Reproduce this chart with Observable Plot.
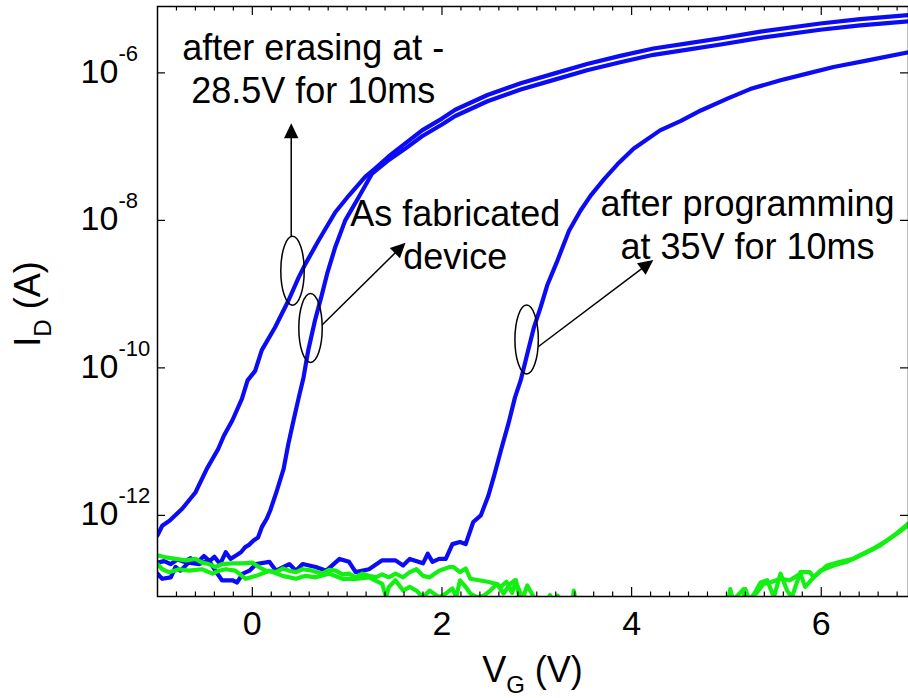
<!DOCTYPE html>
<html>
<head>
<meta charset="utf-8">
<script src="https://cdn.jsdelivr.net/npm/d3@7"></script>
<script src="https://cdn.jsdelivr.net/npm/@observablehq/plot@0.6"></script>
<style>
  html, body { margin: 0; padding: 0; background: #ffffff; }
  #chart { width: 908px; height: 698px; overflow: hidden; }
</style>
</head>
<body>
<div id="chart"></div>
<script>
// ---------- DATA: [V_G (V), log10(I_D / A)] ----------
const erased = [
  [-1.0,-12.27],[-0.95,-12.14],[-0.87,-12.07],[-0.74,-11.91],[-0.60,-11.69],[-0.48,-11.37],
  [-0.36,-11.10],[-0.30,-10.92],[-0.21,-10.71],[-0.11,-10.42],[-0.05,-10.17],[0.03,-10.04],
  [0.10,-9.76],[0.24,-9.45],[0.38,-9.09],[0.49,-8.77],[0.56,-8.59],[0.70,-8.27],[0.875,-7.89],
  [1.02,-7.66],[1.19,-7.41],[1.30,-7.29],[1.44,-7.13],[1.61,-6.96],[1.79,-6.78],[2.0,-6.62],
  [2.14,-6.50],[2.48,-6.30],[2.83,-6.14],[3.18,-6.01],[3.53,-5.88],[3.88,-5.77],[4.23,-5.67],
  [4.59,-5.60],[4.94,-5.53],[5.36,-5.44],[5.99,-5.33],[6.41,-5.27],[6.92,-5.215]
];
const asFabricated = [
  [-1.0,-12.64],[-0.93,-12.62],[-0.86,-12.66],[-0.79,-12.60],[-0.72,-12.63],[-0.65,-12.58],
  [-0.58,-12.64],[-0.51,-12.55],[-0.45,-12.62],[-0.40,-12.56],[-0.34,-12.66],[-0.28,-12.50],
  [-0.23,-12.59],[-0.18,-12.55],[-0.12,-12.50],[-0.075,-12.43],[-0.035,-12.40],[0.013,-12.34],
  [0.06,-12.30],[0.10,-12.16],[0.15,-12.05],[0.19,-11.93],[0.26,-11.66],[0.33,-11.37],
  [0.38,-11.03],[0.435,-10.71],[0.49,-10.40],[0.54,-10.13],[0.59,-9.76],[0.66,-9.36],
  [0.735,-9.0],[0.79,-8.72],[0.875,-8.36],[0.98,-8.0],[1.12,-7.69],[1.26,-7.37],[1.44,-7.18],
  [1.61,-7.03],[1.79,-6.86],[2.0,-6.70],[2.14,-6.585],[2.48,-6.385],[2.83,-6.225],[3.18,-6.095],
  [3.53,-5.965],[3.88,-5.855],[4.23,-5.755],[4.59,-5.685],[4.94,-5.615],[5.36,-5.525],[5.99,-5.415],
  [6.41,-5.355],[6.92,-5.30]
];
const programmed = [
  [-1.0,-12.79],[-0.95,-12.86],[-0.86,-12.84],[-0.81,-12.70],[-0.76,-12.75],[-0.67,-12.64],
  [-0.56,-12.66],[-0.46,-12.61],[-0.39,-12.75],[-0.32,-12.88],[-0.21,-12.88],[-0.16,-12.91],
  [-0.10,-12.79],[-0.03,-12.75],[0.04,-12.66],[0.18,-12.63],[0.25,-12.75],[0.39,-12.66],
  [0.46,-12.75],[0.53,-12.66],[0.67,-12.70],[0.78,-12.75],[0.92,-12.59],[1.02,-12.63],
  [1.09,-12.77],[1.23,-12.73],[1.37,-12.61],[1.51,-12.61],[1.59,-12.68],[1.66,-12.59],
  [1.80,-12.65],[1.85,-12.52],[1.90,-12.63],[1.97,-12.59],[2.04,-12.59],[2.11,-12.39],
  [2.19,-12.36],[2.25,-12.39],[2.33,-12.09],[2.41,-12.00],[2.49,-11.73],[2.55,-11.46],
  [2.63,-11.08],[2.70,-10.76],[2.77,-10.40],[2.83,-10.17],[2.90,-9.81],[2.97,-9.45],
  [3.04,-9.18],[3.11,-8.88],[3.21,-8.57],[3.34,-8.14],[3.46,-7.87],[3.57,-7.66],[3.71,-7.44],
  [3.85,-7.24],[4.02,-7.03],[4.30,-6.78],[4.52,-6.65],[4.73,-6.51],[5.01,-6.35],[5.25,-6.22],
  [5.57,-6.10],[5.85,-6.01],[6.13,-5.92],[6.49,-5.83],[6.92,-5.72]
];
const green1 = [
  [-1.0,-12.54],[-0.91,-12.57],[-0.81,-12.59],[-0.70,-12.61],[-0.60,-12.59],[-0.53,-12.64],
  [-0.46,-12.66],[-0.39,-12.70],[-0.32,-12.66],[-0.21,-12.65],[-0.11,-12.65],[0.0,-12.64],
  [0.07,-12.70],[0.14,-12.75],[0.25,-12.77],[0.32,-12.72],[0.39,-12.75],[0.46,-12.77],
  [0.53,-12.73],[0.63,-12.75],[0.74,-12.79],[0.81,-12.74],[0.88,-12.75],[0.95,-12.80],
  [1.02,-12.79],[1.09,-12.84],[1.16,-12.79],[1.23,-12.82],[1.30,-12.84],[1.37,-12.80],
  [1.44,-12.84],[1.51,-12.79],[1.59,-12.84],[1.66,-12.77],[1.73,-12.73],[1.80,-12.82],
  [1.87,-12.84],[1.97,-12.75],[2.08,-12.70],[2.12,-12.70],[2.19,-12.77],[2.25,-12.72],
  [2.30,-12.86],[2.39,-12.88],[2.48,-12.90],[2.58,-12.93],[2.62,-12.97],[2.68,-12.90],
  [2.74,-13.05],[2.78,-12.88],[2.83,-13.2],[2.90,-12.95],[3.05,-13.3],[3.14,-13.08],
  [3.18,-13.25],[3.22,-13.09],[3.36,-13.3],[3.39,-13.02],[3.43,-13.3],[3.6,-13.4],
  [4.5,-13.4],[5.0,-13.3],[5.04,-13.0],[5.08,-13.2],[5.14,-13.3],[5.2,-13.0],[5.24,-13.15],
  [5.30,-13.05],[5.36,-12.91],[5.43,-12.88],[5.50,-13.11],[5.57,-12.79],[5.64,-13.02],
  [5.69,-13.11],[5.78,-12.77],[5.88,-12.77],[5.92,-12.84],[6.06,-12.68],[6.20,-12.63],
  [6.34,-12.59],[6.48,-12.50],[6.62,-12.41],[6.77,-12.27],[6.92,-12.11]
];
const green2 = [
  [-1.0,-12.66],[-0.95,-12.73],[-0.88,-12.77],[-0.77,-12.73],[-0.67,-12.75],[-0.53,-12.73],
  [-0.42,-12.79],[-0.35,-12.75],[-0.28,-12.73],[-0.18,-12.75],[-0.07,-12.86],[0.04,-12.82],
  [0.18,-12.75],[0.32,-12.82],[0.46,-12.86],[0.56,-12.82],[0.67,-12.84],[0.81,-12.79],
  [0.95,-12.86],[1.09,-12.86],[1.23,-12.84],[1.37,-12.93],[1.41,-13.11],[1.44,-12.97],
  [1.51,-12.88],[1.59,-13.02],[1.66,-12.97],[1.73,-13.02],[1.80,-13.11],[1.87,-13.02],
  [1.97,-13.11],[2.04,-13.06],[2.11,-12.99],[2.15,-13.11],[2.19,-12.88],[2.25,-12.97],
  [2.30,-13.06],[2.37,-13.11],[2.44,-13.09],[2.51,-13.02],[2.58,-12.93],[2.65,-13.06],
  [2.72,-12.93],[2.77,-12.88],[2.83,-13.06],[2.90,-13.13],[3.0,-13.3],[3.5,-13.4],
  [4.5,-13.4],[5.0,-13.25],[5.18,-13.0],[5.22,-13.2],[5.32,-13.05],[5.39,-12.93],
  [5.46,-12.91],[5.57,-12.86],[5.67,-12.88],[5.78,-12.79],[5.83,-12.97],[5.92,-12.84],
  [5.99,-12.75],[6.13,-12.68],[6.27,-12.63],[6.41,-12.54],[6.55,-12.45],[6.69,-12.34],
  [6.83,-12.22],[6.92,-12.13]
];

// ---------- ticks & labels ----------
const xMajorTicks = [0, 2, 4, 6];
const xMinorTicks = d3.range(-8, 70, 2).map(d => d / 10).filter(d => !xMajorTicks.includes(d));
const yTicks = [1e-12, 1e-10, 1e-8, 1e-6];
const yTickExponents = ["-12", "-10", "-8", "-6"];

// ---------- annotations (data coordinates: V_G, log10 I_D) ----------
const annotationTexts = [
  {v: 0.643, log: -6.41, text: "after erasing at -\n28.5V for 10ms"},
  {v: 2.141, log: -8.657, text: "As fabricated\ndevice"},
  {v: 5.222, log: -8.521, text: "after programming\nat 35V for 10ms"}
];
const ellipseCenters = [
  {v: 0.429, log: -8.69},
  {v: 0.619, log: -9.466},
  {v: 2.898, log: -9.622}
];
const arrowSegments = [
  {v1: 0.4155, l1: -8.228, v2: 0.4155, l2: -6.69},
  {v1: 0.741, l1: -9.425, v2: 1.621, l2: -8.309},
  {v1: 3.020, l1: -9.72, v2: 4.234, l2: -8.544}
];

const BLUE = "#0c0cf4";
const GREEN = "#12f012";
const FONT = "'Liberation Sans', Arial, Helvetica, sans-serif";

const toRows = (pairs, name) => pairs.map(([v, e]) => ({v, i: Math.pow(10, e), name}));
const blueRows = [...toRows(erased, "erased"), ...toRows(asFabricated, "fab"), ...toRows(programmed, "prog")];
const greenRows = [...toRows(green1, "g1"), ...toRows(green2, "g2")];

function annotationMark(index, scales) {
  const x = scales.x, y = scales.y;
  const g = d3.create("svg:g").attr("fill", "none").attr("stroke", "black").attr("stroke-width", 1.5);
  for (const e of ellipseCenters) {
    g.append("ellipse").attr("cx", x(e.v)).attr("cy", y(Math.pow(10, e.log))).attr("rx", 11.7).attr("ry", 34.4);
  }
  for (const a of arrowSegments) {
    const x1 = x(a.v1), y1 = y(Math.pow(10, a.l1)), x2 = x(a.v2), y2 = y(Math.pow(10, a.l2));
    const dx = x2 - x1, dy = y2 - y1, L = Math.hypot(dx, dy), ux = dx / L, uy = dy / L;
    const hl = 15, hw = 7.2;
    const bx = x2 - ux * hl, by = y2 - uy * hl;
    g.append("line").attr("x1", x1).attr("y1", y1).attr("x2", bx + ux * 1).attr("y2", by + uy * 1);
    g.append("path")
      .attr("d", `M${x2},${y2}L${bx - uy * hw},${by + ux * hw}L${bx + uy * hw},${by - ux * hw}Z`)
      .attr("fill", "black").attr("stroke", "none");
  }
  return g.node();
}

function axisTitles(index, scales, values, dims) {
  const {width, height, marginLeft, marginRight, marginTop, marginBottom} = dims;
  const g = d3.create("svg:g").attr("fill", "black").attr("font-family", FONT).style("white-space", "pre");
  const cx = (marginLeft + width - marginRight) / 2;
  const tx = g.append("text").attr("x", cx).attr("y", height - 16)
    .attr("text-anchor", "middle").attr("font-size", 36);
  tx.append("tspan").text("V");
  tx.append("tspan").attr("font-size", 24).attr("dy", 11).text("G");
  tx.append("tspan").attr("dy", -11).text(" (V)");
  const cy = (marginTop + height - marginBottom) / 2 + 3;
  const ty = g.append("text").attr("transform", `translate(40,${cy}) rotate(-90)`)
    .attr("text-anchor", "middle").attr("font-size", 36);
  ty.append("tspan").text("I");
  ty.append("tspan").attr("font-size", 24).attr("dy", 11).text("D");
  ty.append("tspan").attr("dy", -11).text(" (A)");
  return g.node();
}

const FH = 698 - 6 - 102; // frame height
const FW = 908 - 157;     // frame width

const chart = Plot.plot({
  width: 908,
  height: 698,
  marginLeft: 157,
  marginRight: 0,
  marginTop: 6,
  marginBottom: 102,
  style: {fontFamily: FONT, background: "#ffffff", color: "black"},
  x: {domain: [-1, 6.92], axis: null},
  y: {type: "log", domain: [Math.pow(10, -13.1), Math.pow(10, -5.1)], axis: null},
  marks: [
    Plot.line(blueRows, {x: "v", y: "i", z: "name", stroke: BLUE, strokeWidth: 4.2, strokeLinejoin: "round", clip: true}),
    Plot.line(greenRows, {x: "v", y: "i", z: "name", stroke: GREEN, strokeWidth: 4.2, strokeLinejoin: "round", clip: true}),
    // inward ticks
    Plot.ruleX(xMinorTicks, {x: d => d, insetTop: FH - 4.5, stroke: "black", strokeWidth: 1.2}),
    Plot.ruleX(xMajorTicks, {x: d => d, insetTop: FH - 9, stroke: "black", strokeWidth: 1.2}),
    Plot.ruleX(xMinorTicks, {x: d => d, insetBottom: FH - 4.5, stroke: "black", strokeWidth: 1.2}),
    Plot.ruleX(xMajorTicks, {x: d => d, insetBottom: FH - 9, stroke: "black", strokeWidth: 1.2}),
    Plot.ruleY(yTicks, {y: d => d, insetRight: FW - 8, stroke: "black", strokeWidth: 1.2}),
    Plot.ruleY(yTicks, {y: d => d, insetLeft: FW - 8, stroke: "black", strokeWidth: 1.2}),
    Plot.frame({stroke: "black", strokeWidth: 1.5}),
    // tick labels
    Plot.text(xMajorTicks, {x: d => d, frameAnchor: "bottom", text: d => String(d), lineAnchor: "top", dy: 14, fontSize: 34, fill: "black"}),
    Plot.text(yTicks, {y: d => d, frameAnchor: "left", text: () => "10", textAnchor: "start", lineAnchor: "bottom", dx: -77, dy: 10, fontSize: 34, fill: "black"}),
    Plot.text(yTicks, {y: d => d, frameAnchor: "left", text: (d, i) => yTickExponents[i], textAnchor: "start", lineAnchor: "bottom", dx: -39, dy: -12, fontSize: 22, fill: "black"}),
    // annotations
    Plot.text(annotationTexts, {x: "v", y: d => Math.pow(10, d.log), text: "text", textAnchor: "middle", lineAnchor: "bottom", lineHeight: 1.2, fontSize: 36, fill: "black"}),
    annotationMark,
    axisTitles
  ]
});

document.getElementById("chart").appendChild(chart);
</script>
</body>
</html>
